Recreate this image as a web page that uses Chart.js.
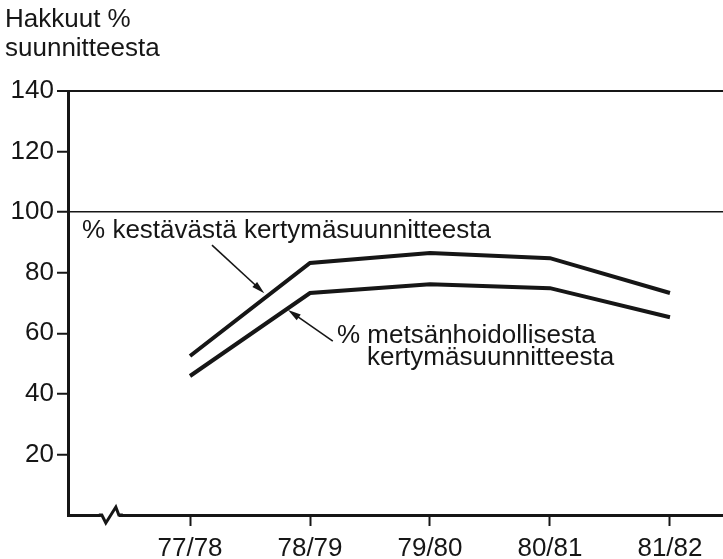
<!DOCTYPE html>
<html>
<head>
<meta charset="utf-8">
<script src="https://cdn.jsdelivr.net/npm/chart.js@4/dist/chart.umd.min.js"></script>
<style>
  body { margin: 0; background: #fff; }
  canvas { display: block; }
</style>
</head>
<body>
<canvas id="hakkuuChart" width="723" height="559"></canvas>
<script>
var categories = ['77/78', '78/79', '79/80', '80/81', '81/82'];
var kestavasta = [52.5, 83.2, 86.5, 84.8, 73.3];
var metsanhoidollisesta = [45.9, 73.3, 76.2, 74.9, 65.3];
var yTicks = [0, 20, 40, 60, 80, 100, 120, 140];

var ink = '#161616';
var fontFamily = '"Liberation Sans", Arial, Helvetica, sans-serif';

function toPoints(values) {
    var points = [];
    for (var i = 0; i < values.length; i++) {
        points.push({ x: i, y: values[i] });
    }
    return points;
}

function arrow(ctx, x1, y1, x2, y2) {
    var angle = Math.atan2(y2 - y1, x2 - x1);
    var len = 13, half = 3.5;
    ctx.beginPath();
    ctx.moveTo(x1, y1);
    ctx.lineTo(x2 - Math.cos(angle) * len * 0.8, y2 - Math.sin(angle) * len * 0.8);
    ctx.stroke();
    ctx.beginPath();
    ctx.moveTo(x2, y2);
    ctx.lineTo(x2 - Math.cos(angle) * len - Math.sin(angle) * half,
               y2 - Math.sin(angle) * len + Math.cos(angle) * half);
    ctx.lineTo(x2 - Math.cos(angle) * len + Math.sin(angle) * half,
               y2 - Math.sin(angle) * len - Math.cos(angle) * half);
    ctx.closePath();
    ctx.fill();
}

// axis title, labels with arrows and the break mark on the x axis
var decorations = {
    id: 'decorations',
    afterDraw: function(chart) {
        var ctx = chart.ctx;
        var xs = chart.scales.x, ys = chart.scales.y;
        var px = function(v) { return xs.getPixelForValue(v); };
        var py = function(v) { return ys.getPixelForValue(v); };

        ctx.save();
        ctx.fillStyle = ink;
        ctx.strokeStyle = ink;
        ctx.font = '26px ' + fontFamily;
        ctx.textBaseline = 'alphabetic';
        ctx.textAlign = 'left';
        ctx.fillText('Hakkuut %', 5, 27);
        ctx.fillText('suunnitteesta', 5, 56);

        ctx.fillText('% kestävästä kertymäsuunnitteesta', px(-0.9), py(91.4));
        ctx.fillText('% metsänhoidollisesta', px(1.225), py(56.8));
        ctx.fillText('kertymäsuunnitteesta', px(1.475), py(49.5));

        ctx.lineWidth = 1.6;
        arrow(ctx, px(0.183), py(89.1), px(0.619), py(73.2));
        arrow(ctx, px(1.19), py(57.4), px(0.817), py(67.7));

        // break in the x axis
        var bx = px(-0.71), by = py(0);
        ctx.fillStyle = '#fff';
        ctx.fillRect(bx - 4, by - 3, 18, 6);
        ctx.lineWidth = 3;
        ctx.lineJoin = 'miter';
        ctx.beginPath();
        ctx.moveTo(bx - 6, by);
        ctx.lineTo(bx - 3, by);
        ctx.lineTo(bx + 1, by + 8);
        ctx.lineTo(bx + 11, by - 8);
        ctx.lineTo(bx + 14, by);
        ctx.lineTo(bx + 18, by);
        ctx.stroke();
        ctx.restore();
    }
};

function drawChart() {
    var ctx = document.getElementById('hakkuuChart').getContext('2d');

    var hakkuuChart = new Chart(ctx, {
        type: 'line',
        data: {
            datasets: [{
                label: '% kestävästä kertymäsuunnitteesta',
                data: toPoints(kestavasta),
                borderColor: ink,
                borderWidth: 4,
                pointRadius: 0,
                tension: 0
            }, {
                label: '% metsänhoidollisesta kertymäsuunnitteesta',
                data: toPoints(metsanhoidollisesta),
                borderColor: ink,
                borderWidth: 4,
                pointRadius: 0,
                tension: 0
            }]
        },
        options: {
            responsive: false,
            animation: false,
            layout: { padding: { top: 91, right: 0, bottom: 0, left: 0 } },
            plugins: {
                legend: { display: false },
                tooltip: { enabled: false }
            },
            scales: {
                x: {
                    type: 'linear',
                    min: -1.017,
                    max: 4.442,
                    afterBuildTicks: function(scale) {
                        scale.ticks = categories.map(function(c, i) { return { value: i }; });
                    },
                    afterFit: function(scale) { scale.height = 44; },
                    border: { display: true, color: ink, width: 3 },
                    grid: {
                        drawOnChartArea: false,
                        tickLength: 11,
                        tickColor: ink,
                        tickWidth: 2
                    },
                    ticks: {
                        padding: 7,
                        color: ink,
                        font: { family: fontFamily, size: 26 },
                        maxRotation: 0,
                        callback: function(value) { return categories[value]; }
                    }
                },
                y: {
                    min: yTicks[0],
                    max: yTicks[yTicks.length - 1],
                    afterBuildTicks: function(scale) {
                        scale.ticks = yTicks.map(function(v) { return { value: v }; });
                    },
                    afterFit: function(scale) { scale.width = 68; },
                    border: { display: true, color: ink, width: 3 },
                    grid: {
                        color: function(c) {
                            return (c.tick && (c.tick.value === 100 || c.tick.value === 140)) ? ink : 'rgba(0,0,0,0)';
                        },
                        lineWidth: function(c) {
                            return (c.tick && c.tick.value === 140) ? 2 : 1.5;
                        },
                        tickColor: function(c) {
                            return (c.tick && c.tick.value === 0) ? 'rgba(0,0,0,0)' : ink;
                        },
                        tickWidth: 2,
                        tickLength: 11
                    },
                    ticks: {
                        padding: 3,
                        color: ink,
                        font: { family: fontFamily, size: 26 },
                        callback: function(value) { return value === 0 ? '' : value; }
                    }
                }
            }
        },
        plugins: [decorations]
    });
}

drawChart();
</script>
</body>
</html>
